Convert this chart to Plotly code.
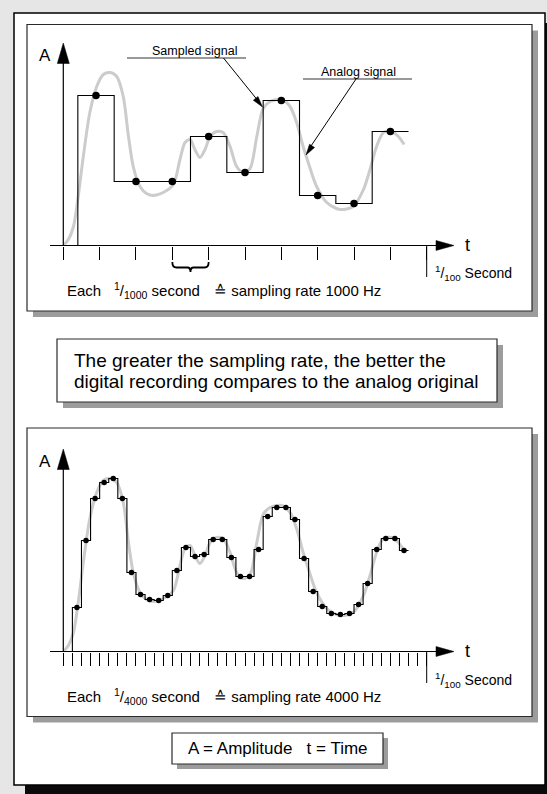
import plotly.graph_objects as go

W, H = 547, 794
FONT = "Liberation Sans, Arial, Helvetica, sans-serif"

# --- analog signal (time in ms, amplitude) -------------------------------
analog_t = [0, 0.14, 0.28, 0.41, 0.55, 0.73, 0.92, 1.10, 1.29, 1.47, 1.65, 1.79, 1.93,
            2.11, 2.29, 2.48, 2.75, 3.03, 3.21, 3.35, 3.49, 3.62, 3.76, 3.90, 4.04,
            4.22, 4.40, 4.59, 4.77, 4.95, 5.14, 5.32, 5.50, 5.69, 6.01, 6.24, 6.42,
            6.60, 6.74, 6.97, 7.25, 7.61, 7.98, 8.26, 8.44, 8.62, 8.81, 9.04, 9.22, 9.38]
analog_a = [0, 6, 19, 49, 89, 133, 159, 171, 173, 169, 149, 110, 78,
            59, 52, 50, 53, 61, 86, 103, 106, 96, 88, 96, 109,
            114, 113, 99, 79, 73, 77, 108, 137, 144, 146, 139, 123,
            99, 83, 59, 43, 36, 39, 56, 76, 99, 113, 114, 109, 101]

# --- 1000 Hz sampling ----------------------------------------------------
samp1_t = [0.9, 2, 3, 4, 5, 6, 7, 8, 9]
samp1_a = [150, 64, 64, 109, 73, 145, 50, 42, 114]
hold1_edges = [0.4, 1.4, 2.5, 3.5, 4.5, 5.5, 6.5, 7.5, 8.5, 9.5]
ticks1 = list(range(0, 11))

# --- 4000 Hz sampling ----------------------------------------------------
period2 = 0.25
samp2_a = [44, 111, 153, 169, 173, 153, 79, 57, 52, 51, 56, 81, 104, 95, 97, 112, 112,
           94, 75, 75, 102, 135, 144, 144, 132, 93, 60, 45, 38, 37, 38, 47, 68, 102,
           113, 113, 101]
samp2_t = [(i + 1.5) * period2 for i in range(len(samp2_a))]
hold2_edges = [(i + 1) * period2 for i in range(len(samp2_a) + 1)]
ticks2 = [i * period2 for i in range(41)]

# --- page geometry (pixels) ----------------------------------------------
X0, PX_PER_MS = 63.3, 36.34
AX1_Y, AX2_Y = 245.5, 651.5
AMP_SPAN = 200


def px(t):
    return X0 + PX_PER_MS * t


def pp(x, y):
    return x / W, 1 - y / H


shapes = []


def rect(x0, y0, x1, y1, fill, line=None, width=1.0, layer="below"):
    a, b = pp(x0, y0)
    c, d = pp(x1, y1)
    shapes.append(dict(type="rect", xref="paper", yref="paper", x0=a, y0=d, x1=c, y1=b,
                       fillcolor=fill, layer=layer,
                       line=dict(color=line or fill, width=width if line else 0)))


def seg(x0, y0, x1, y1, color="black", width=1.0, layer="above"):
    a, b = pp(x0, y0)
    c, d = pp(x1, y1)
    shapes.append(dict(type="line", xref="paper", yref="paper", x0=a, y0=b, x1=c, y1=d,
                       layer=layer, line=dict(color=color, width=width)))


def poly(points, color="black"):
    cmds = []
    for i, (x, y) in enumerate(points):
        a, b = pp(x, y)
        cmds.append(("M" if i == 0 else "L") + f"{a:.5f},{b:.5f}")
    shapes.append(dict(type="path", xref="paper", yref="paper", path=" ".join(cmds) + " Z",
                       fillcolor=color, line=dict(color=color, width=0.5), layer="above"))


def arrow_head(fx, fy, tx, ty, length=11, half=3):
    dx, dy = tx - fx, ty - fy
    n = (dx * dx + dy * dy) ** 0.5
    ux, uy = dx / n, dy / n
    bx, by = tx - ux * length, ty - uy * length
    poly([(tx, ty), (bx - uy * half, by + ux * half), (bx + uy * half, by - ux * half)])


def brace(xl, xr, y0):
    xm = (xl + xr) / 2
    pts = [("M", xl, y0), ("Q", xl, y0 + 5.5), ("", xl + 4, y0 + 5.5),
           ("L", xm - 3, y0 + 5.5), ("Q", xm, y0 + 5.5), ("", xm, y0 + 10),
           ("Q", xm, y0 + 5.5), ("", xm + 3, y0 + 5.5),
           ("L", xr - 4, y0 + 5.5), ("Q", xr, y0 + 5.5), ("", xr, y0)]
    cmds = []
    for c, x, y in pts:
        a, b = pp(x, y)
        cmds.append(f"{c}{a:.5f},{b:.5f}")
    shapes.append(dict(type="path", xref="paper", yref="paper", path=" ".join(cmds),
                       line=dict(color="black", width=1.8), layer="above"))


# frames and boxes
rect(25, 23, 570, 820, "#0a0a0a")
rect(14, 13, 545, 785, "white", "black", 1.5)
for top, bot in [(24.5, 311), (428, 716.5)]:
    rect(33, top + 6, 538, bot + 6, "#9c9c9c")
    rect(27, top, 532, bot, "white", "#2a2a2a", 1.2)
rect(63, 345, 503, 408, "#9c9c9c")
rect(57, 339, 497, 402, "white", "#2a2a2a", 1.2)
rect(177, 738, 388, 769, "#9c9c9c")
rect(172, 733, 383, 764, "white", "#2a2a2a", 1.2)

annotations = []


def text(x, y, s, size, anchor="center", color="black"):
    a, b = pp(x, y)
    annotations.append(dict(x=a, y=b, xref="paper", yref="paper", text=s, showarrow=False,
                            xanchor=anchor, yanchor="middle",
                            font=dict(family=FONT, size=size, color=color)))


# axis decorations for both panels
for ay, rate, den in [(AX1_Y, "1000", "1000"), (AX2_Y, "4000", "4000")]:
    seg(50, ay, 437, ay, width=1.2)
    poly([(454, ay), (436, ay - 5), (436, ay + 5)])
    seg(X0, ay, X0, ay - 183, width=1.2)
    poly([(X0, ay - 202.5), (X0 - 6, ay - 182), (X0 + 6, ay - 182)])
    seg(px(10), ay, px(10), ay + 31.5, width=1)
    text(45, ay - 190, "A", 17)
    text(467, ay - 1, "t", 18)
    text(433, ay + 28, "<sup>1</sup>/<sub>100</sub> Second", 14, "left")
    text(65, ay + 45, "Each", 15, "left")
    text(112, ay + 45, f"<sup>1</sup>/<sub>{den}</sub> second", 15, "left")
    text(212, ay + 45, f"\u2259 sampling rate {rate} Hz", 15, "left")

brace(px(3), px(4), AX1_Y + 16.5)

# callouts in panel 1
seg(127, 58, 246, 58, color="#777777", width=1.5)
text(194.5, 51, "Sampled signal", 12.5)
seg(223.5, 58, 257, 99.5, width=1)
arrow_head(223.5, 58, 262.5, 107)
seg(303, 79, 412, 79, color="#777777", width=1.5)
text(358, 72, "Analog signal", 12.5)
seg(356, 79, 311, 146, width=1)
arrow_head(356, 79, 306, 155)

# text boxes
text(72, 360, "The greater the sampling rate, the better the", 19, "left")
text(72, 382, "digital recording compares to the analog original", 19, "left")
text(277.5, 748.5, "A = Amplitude\u00a0\u00a0\u00a0t = Time", 17)


def step_xy(edges, levels):
    xs, ys = [edges[0]], [0]
    for i, lv in enumerate(levels):
        xs += [edges[i], edges[i + 1]]
        ys += [lv, lv]
    return xs, ys


fig = go.Figure()
for xa, ya, st, sa, edges, msize in [("x", "y", samp1_t, samp1_a, hold1_edges, 7.5),
                                     ("x2", "y2", samp2_t, samp2_a, hold2_edges, 5.5)]:
    fig.add_trace(go.Scatter(x=analog_t, y=analog_a, mode="lines", xaxis=xa, yaxis=ya,
                             line=dict(color="#cccccc", width=3, shape="spline", smoothing=0.8),
                             cliponaxis=False, hoverinfo="skip"))
    sx, sy = step_xy(edges, sa)
    fig.add_trace(go.Scatter(x=sx, y=sy, mode="lines", xaxis=xa, yaxis=ya,
                             line=dict(color="black", width=1.1), cliponaxis=False))
    fig.add_trace(go.Scatter(x=st, y=sa, mode="markers", xaxis=xa, yaxis=ya,
                             marker=dict(color="black", size=msize), cliponaxis=False))

xdom = [X0 / W, px(10) / W]
common_x = dict(range=[0, 10], domain=xdom, showgrid=False, zeroline=False, showline=False,
                showticklabels=False, ticks="outside", ticklen=13, tickwidth=1,
                tickcolor="black", tickmode="array", fixedrange=True)
common_y = dict(range=[0, AMP_SPAN], showgrid=False, zeroline=False, showline=False,
                showticklabels=False, ticks="", fixedrange=True)

fig.update_layout(
    width=W, height=H, autosize=False,
    margin=dict(l=0, r=0, t=0, b=0),
    paper_bgcolor="#e6e6e6", plot_bgcolor="rgba(0,0,0,0)",
    showlegend=False,
    xaxis=dict(common_x, anchor="y", tickvals=ticks1),
    yaxis=dict(common_y, anchor="x", domain=[1 - AX1_Y / H, 1 - (AX1_Y - AMP_SPAN) / H]),
    xaxis2=dict(common_x, anchor="y2", tickvals=ticks2),
    yaxis2=dict(common_y, anchor="x2", domain=[1 - AX2_Y / H, 1 - (AX2_Y - AMP_SPAN) / H]),
    shapes=shapes,
    annotations=annotations,
)

# the page's default body margin would shift the whole drawing by 8px
fig.write_html("out.html", config={"displayModeBar": False},
               post_script="document.body.style.margin='0';document.body.style.overflow='hidden';")
